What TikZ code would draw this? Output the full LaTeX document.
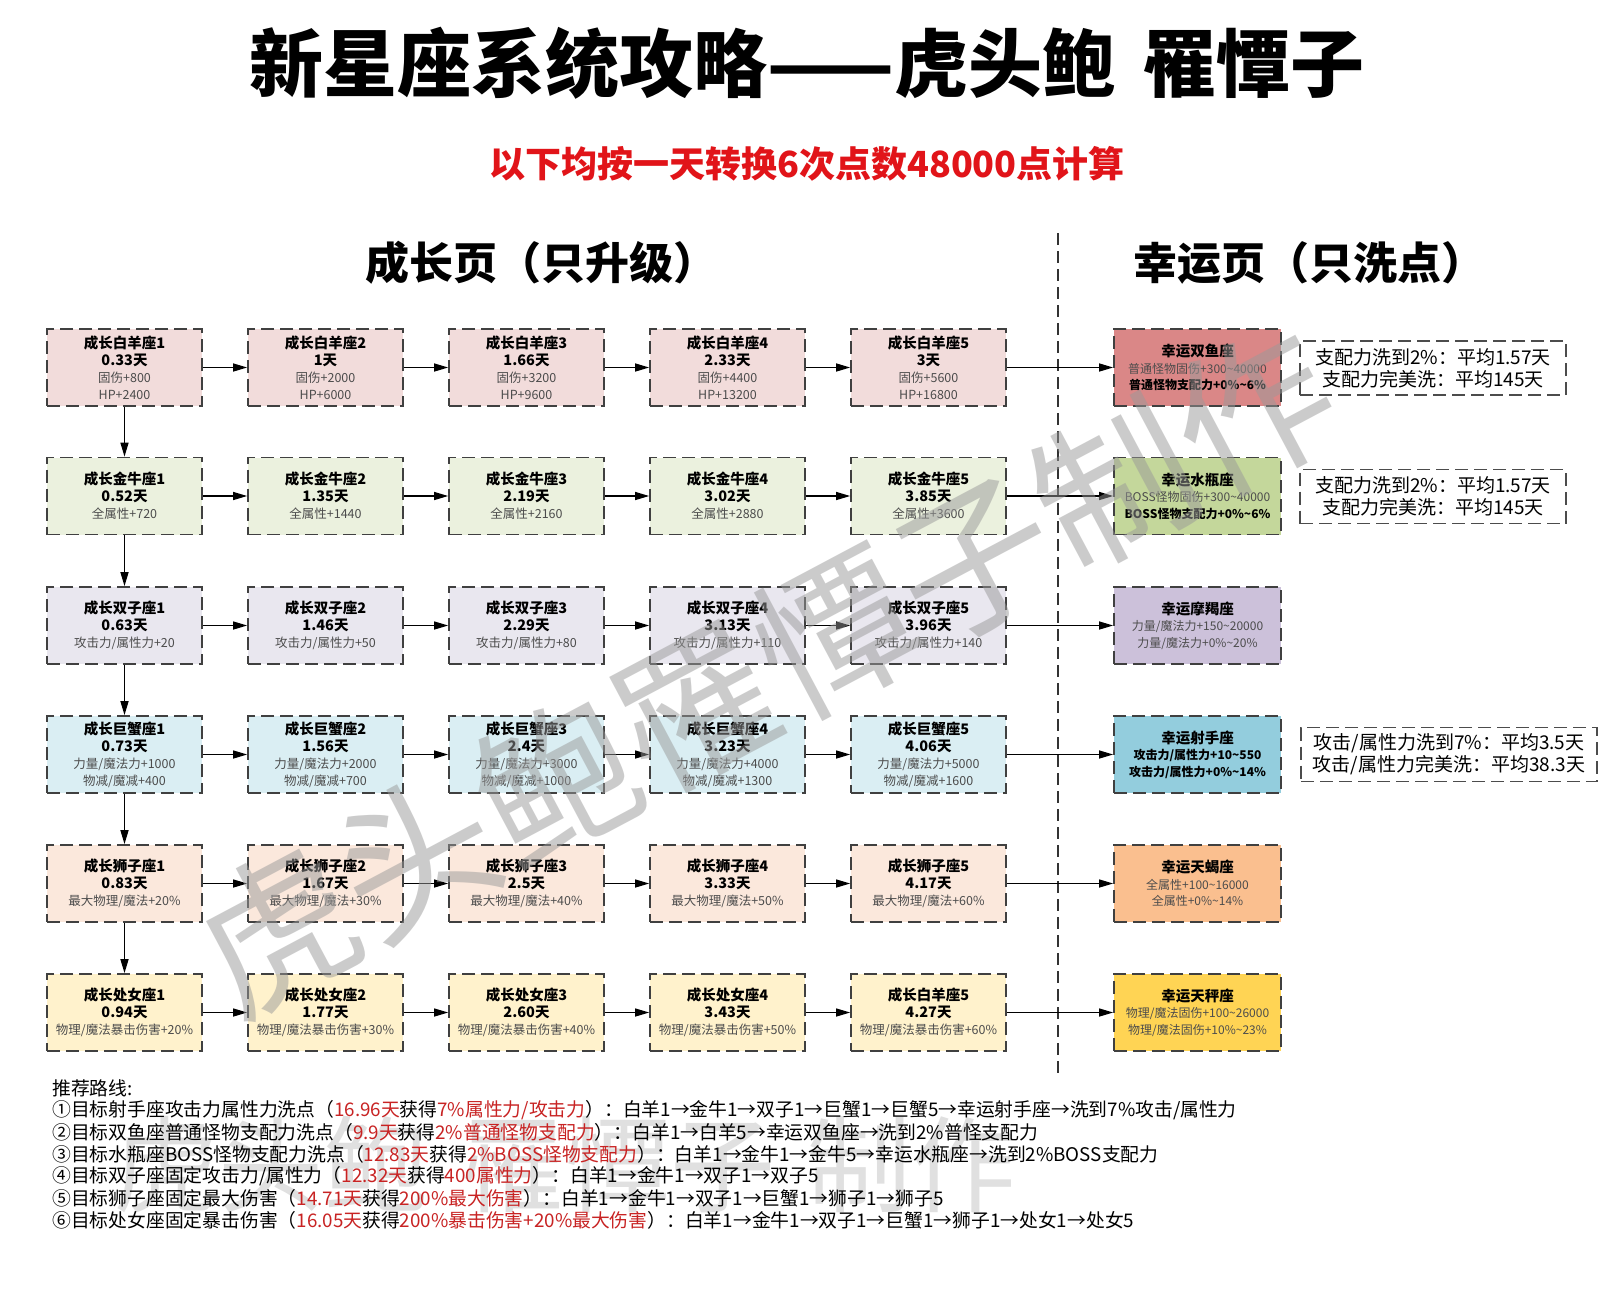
\documentclass[tikz,border=0pt]{standalone}
\usepackage{fontspec}
\setmainfont{Noto Sans CJK SC}
\usetikzlibrary{arrows.meta}
\definecolor{cA}{RGB}{242,220,219}
\definecolor{cB}{RGB}{235,241,222}
\definecolor{cC}{RGB}{233,231,239}
\definecolor{cD}{RGB}{218,238,243}
\definecolor{cE}{RGB}{251,232,220}
\definecolor{cF}{RGB}{255,242,204}
\definecolor{lA}{RGB}{218,135,135}
\definecolor{lB}{RGB}{196,215,155}
\definecolor{lC}{RGB}{204,193,218}
\definecolor{lD}{RGB}{147,205,221}
\definecolor{lE}{RGB}{250,191,143}
\definecolor{lF}{RGB}{255,212,84}
\definecolor{rtext}{RGB}{200,35,35}
\definecolor{subred}{RGB}{225,20,25}
\newcommand\hd[1]{{\color{black}\bfseries\fontsize{14.5}{17}\selectfont #1}}
\newcommand\hb[1]{{\color{black}\bfseries #1}}
\newcommand\rd[1]{\textcolor{rtext}{#1}}
\newcommand\tld{\textasciitilde}
\tikzset{
  gbox/.style={draw=black!75, line width=1.7pt, dash pattern=on 13pt off 6pt,
    minimum width=155pt, minimum height=77pt, inner sep=0pt, align=center,
    font=\fontsize{12.5}{17}\selectfont, text=black!70},
  lbox/.style={gbox, minimum width=167pt, font=\fontsize{12}{16.5}\selectfont},
  note/.style={draw=black!70, line width=1.3pt, dash pattern=on 13pt off 6pt,
    minimum height=54pt, inner sep=0pt, align=center,
    font=\fontsize{19}{22}\selectfont},
  arr/.style={line width=1.3pt, -{Triangle[length=14pt,width=8pt]}},
  route/.style={anchor=west, inner sep=0pt, font=\fontsize{18.8}{22}\selectfont},
}
\begin{document}
\begin{tikzpicture}[x=1pt,y=-1pt]
\useasboundingbox (0,0) rectangle (1600,1298);
\fill[white] (0,0) rectangle (1600,1298);

% faint bottom watermark
\node[text=black!12, font=\fontsize{105}{110}\selectfont] (wmb) at (565,1165) {虎头鲍\hspace{0.3em}罹憛子\hspace{0.3em}制作};

% titles
\node[font=\bfseries\fontsize{74}{80}\selectfont] (title) at (807,63) {新星座系统攻略——虎头鲍\hspace{0.35em}罹憛子};
\node[font=\bfseries\fontsize{36}{40}\selectfont, text=subred] (sub) at (807,164) {以下均按一天转换6次点数48000点计算};
\node[font=\bfseries\fontsize{44}{48}\selectfont] (hg) at (541,263) {成长页（只升级）};
\node[font=\bfseries\fontsize{44}{48}\selectfont] (hl) at (1309,263) {幸运页（只洗点）};
\draw[line width=1.2pt, black!80, dash pattern=on 12pt off 6pt] (1058,233) -- (1058,1073);

% row A
\node[gbox,fill=cA] (a1) at (124.5,367.5) {\hd{成长白羊座1}\\\hd{0.33天}\\固伤+800\\HP+2400};
\node[gbox,fill=cA] (a2) at (325.5,367.5) {\hd{成长白羊座2}\\\hd{1天}\\固伤+2000\\HP+6000};
\node[gbox,fill=cA] (a3) at (526.5,367.5) {\hd{成长白羊座3}\\\hd{1.66天}\\固伤+3200\\HP+9600};
\node[gbox,fill=cA] (a4) at (727.5,367.5) {\hd{成长白羊座4}\\\hd{2.33天}\\固伤+4400\\HP+13200};
\node[gbox,fill=cA] (a5) at (928.5,367.5) {\hd{成长白羊座5}\\\hd{3天}\\固伤+5600\\HP+16800};
% row B
\node[gbox,fill=cB] (b1) at (124.5,496) {\hd{成长金牛座1}\\\hd{0.52天}\\全属性+720};
\node[gbox,fill=cB] (b2) at (325.5,496) {\hd{成长金牛座2}\\\hd{1.35天}\\全属性+1440};
\node[gbox,fill=cB] (b3) at (526.5,496) {\hd{成长金牛座3}\\\hd{2.19天}\\全属性+2160};
\node[gbox,fill=cB] (b4) at (727.5,496) {\hd{成长金牛座4}\\\hd{3.02天}\\全属性+2880};
\node[gbox,fill=cB] (b5) at (928.5,496) {\hd{成长金牛座5}\\\hd{3.85天}\\全属性+3600};
% row C
\node[gbox,fill=cC] (c1) at (124.5,625.5) {\hd{成长双子座1}\\\hd{0.63天}\\攻击力/属性力+20};
\node[gbox,fill=cC] (c2) at (325.5,625.5) {\hd{成长双子座2}\\\hd{1.46天}\\攻击力/属性力+50};
\node[gbox,fill=cC] (c3) at (526.5,625.5) {\hd{成长双子座3}\\\hd{2.29天}\\攻击力/属性力+80};
\node[gbox,fill=cC] (c4) at (727.5,625.5) {\hd{成长双子座4}\\\hd{3.13天}\\攻击力/属性力+110};
\node[gbox,fill=cC] (c5) at (928.5,625.5) {\hd{成长双子座5}\\\hd{3.96天}\\攻击力/属性力+140};
% row D
\node[gbox,fill=cD] (d1) at (124.5,754.5) {\hd{成长巨蟹座1}\\\hd{0.73天}\\力量/魔法力+1000\\物减/魔减+400};
\node[gbox,fill=cD] (d2) at (325.5,754.5) {\hd{成长巨蟹座2}\\\hd{1.56天}\\力量/魔法力+2000\\物减/魔减+700};
\node[gbox,fill=cD] (d3) at (526.5,754.5) {\hd{成长巨蟹座3}\\\hd{2.4天}\\力量/魔法力+3000\\物减/魔减+1000};
\node[gbox,fill=cD] (d4) at (727.5,754.5) {\hd{成长巨蟹座4}\\\hd{3.23天}\\力量/魔法力+4000\\物减/魔减+1300};
\node[gbox,fill=cD] (d5) at (928.5,754.5) {\hd{成长巨蟹座5}\\\hd{4.06天}\\力量/魔法力+5000\\物减/魔减+1600};
% row E
\node[gbox,fill=cE] (e1) at (124.5,883.5) {\hd{成长狮子座1}\\\hd{0.83天}\\最大物理/魔法+20\%};
\node[gbox,fill=cE] (e2) at (325.5,883.5) {\hd{成长狮子座2}\\\hd{1.67天}\\最大物理/魔法+30\%};
\node[gbox,fill=cE] (e3) at (526.5,883.5) {\hd{成长狮子座3}\\\hd{2.5天}\\最大物理/魔法+40\%};
\node[gbox,fill=cE] (e4) at (727.5,883.5) {\hd{成长狮子座4}\\\hd{3.33天}\\最大物理/魔法+50\%};
\node[gbox,fill=cE] (e5) at (928.5,883.5) {\hd{成长狮子座5}\\\hd{4.17天}\\最大物理/魔法+60\%};
% row F
\node[gbox,fill=cF] (f1) at (124.5,1012.5) {\hd{成长处女座1}\\\hd{0.94天}\\物理/魔法暴击伤害+20\%};
\node[gbox,fill=cF] (f2) at (325.5,1012.5) {\hd{成长处女座2}\\\hd{1.77天}\\物理/魔法暴击伤害+30\%};
\node[gbox,fill=cF] (f3) at (526.5,1012.5) {\hd{成长处女座3}\\\hd{2.60天}\\物理/魔法暴击伤害+40\%};
\node[gbox,fill=cF] (f4) at (727.5,1012.5) {\hd{成长处女座4}\\\hd{3.43天}\\物理/魔法暴击伤害+50\%};
\node[gbox,fill=cF] (f5) at (928.5,1012.5) {\hd{成长白羊座5}\\\hd{4.27天}\\物理/魔法暴击伤害+60\%};

% lucky column
\node[lbox,fill=lA] (la) at (1197.5,367.5) {\hd{幸运双鱼座}\\普通怪物固伤+300\tld40000\\\hb{普通怪物支配力+0\%\tld6\%}};
\node[lbox,fill=lB] (lb) at (1197.5,496) {\hd{幸运水瓶座}\\BOSS怪物固伤+300\tld40000\\\hb{BOSS怪物支配力+0\%\tld6\%}};
\node[lbox,fill=lC] (lc) at (1197.5,625.5) {\hd{幸运摩羯座}\\力量/魔法力+150\tld20000\\力量/魔法力+0\%\tld20\%};
\node[lbox,fill=lD] (ld) at (1197.5,754.5) {\hd{幸运射手座}\\\hb{攻击力/属性力+10\tld550}\\\hb{攻击力/属性力+0\%\tld14\%}};
\node[lbox,fill=lE] (le) at (1197.5,883.5) {\hd{幸运天蝎座}\\全属性+100\tld16000\\全属性+0\%\tld14\%};
\node[lbox,fill=lF] (lf) at (1197.5,1012.5) {\hd{幸运天秤座}\\物理/魔法固伤+100\tld26000\\物理/魔法固伤+10\%\tld23\%};

% notes
\node[note, minimum width=266pt] (n1) at (1433,368) {支配力洗到2\%：平均1.57天\\支配力完美洗：平均145天};
\node[note, minimum width=266pt] (n2) at (1433,496.5) {支配力洗到2\%：平均1.57天\\支配力完美洗：平均145天};
\node[note, minimum width=296pt] (n3) at (1449,754.5) {攻击/属性力洗到7\%：平均3.5天\\攻击/属性力完美洗：平均38.3天};

% connectors
\foreach \r in {a,b,c,d,e,f}{
  \foreach \i [evaluate=\i as \j using int(\i+1)] in {1,...,4}{
    \draw[arr] (\r\i.east) -- (\r\j.west);
  }
  \draw[arr] (\r5.east) -- (l\r.west);
}
\draw[arr] (a1.south) -- (b1.north);
\draw[arr] (b1.south) -- (c1.north);
\draw[arr] (c1.south) -- (d1.north);
\draw[arr] (d1.south) -- (e1.north);
\draw[arr] (e1.south) -- (f1.north);

% routes
\node[route] (r0) at (52,1088) {推荐路线:};
\node[route] (r1) at (52,1110) {①目标射手座攻击力属性力洗点（\rd{16.96天}获得\rd{7\%属性力/攻击力}）：白羊1→金牛1→双子1→巨蟹1→巨蟹5→幸运射手座→洗到7\%攻击/属性力};
\node[route] (r2) at (52,1132) {②目标双鱼座普通怪物支配力洗点（\rd{9.9天}获得\rd{2\%普通怪物支配力}）：白羊1→白羊5→幸运双鱼座→洗到2\%普怪支配力};
\node[route] (r3) at (52,1154) {③目标水瓶座BOSS怪物支配力洗点（\rd{12.83天}获得\rd{2\%BOSS怪物支配力}）：白羊1→金牛1→金牛5→幸运水瓶座→洗到2\%BOSS支配力};
\node[route] (r4) at (52,1176) {④目标双子座固定攻击力/属性力（\rd{12.32天}获得\rd{400属性力}）：白羊1→金牛1→双子1→双子5};
\node[route] (r5) at (52,1198) {⑤目标狮子座固定最大伤害（\rd{14.71天}获得\rd{200\%最大伤害}）：白羊1→金牛1→双子1→巨蟹1→狮子1→狮子5};
\node[route] (r6) at (52,1220) {⑥目标处女座固定暴击伤害（\rd{16.05天}获得\rd{200\%暴击伤害+20\%最大伤害}）：白羊1→金牛1→双子1→巨蟹1→狮子1→处女1→处女5};

% main watermark
\node[rotate=28, text=black!40, opacity=0.5, font=\fontsize{158}{165}\selectfont] (wm) at (765,670) {虎头鲍罹憛子制作};
\end{tikzpicture}
\end{document}
